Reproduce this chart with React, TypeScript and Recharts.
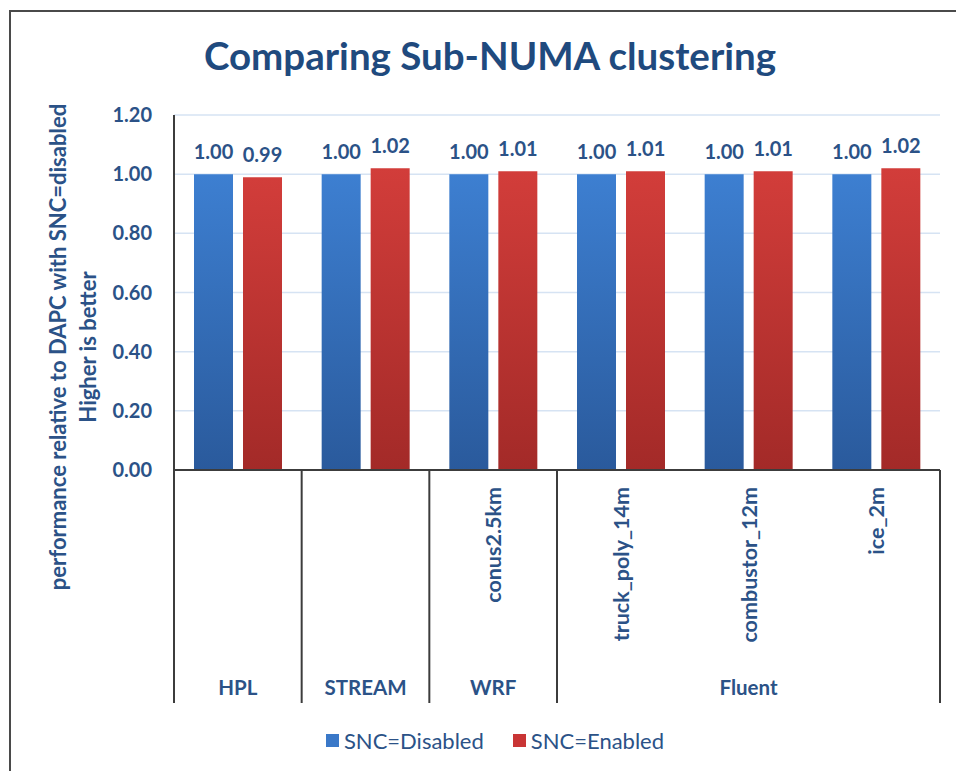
import React from 'react'
import { BarChart, Bar, XAxis, YAxis, CartesianGrid, Legend, LabelList } from 'recharts'

const groups = ['HPL', 'STREAM', 'WRF', 'Fluent', 'Fluent', 'Fluent']
const cases = ['', '', 'conus2.5km', 'truck_poly_14m', 'combustor_12m', 'ice_2m']
const sncDisabled = [1.0, 1.0, 1.0, 1.0, 1.0, 1.0]
const sncEnabled = [0.99, 1.02, 1.01, 1.01, 1.01, 1.02]
const yTicks = [0, 0.2, 0.4, 0.6, 0.8, 1.0, 1.2]
const seriesNames = ['SNC=Disabled', 'SNC=Enabled']

const data = groups.map((g, i) => ({
    key: `${g}|${cases[i]}`,
    disabled: sncDisabled[i],
    enabled: sncEnabled[i],
}))

const FONT = 'Lato, "Open Sans", sans-serif'
const TEXT = '#2b5287'
const LINE = '#3c3c3c'

function CategoryTick(props: any) {
    const { x, y, payload, index } = props
    const half = payload?.offset ?? 0
    const left = x - half
    const right = x + half
    const i = index
    const isStart = i === 0 || groups[i] !== groups[i - 1]
    const isLast = i === groups.length - 1
    let span = 0
    if (isStart) {
        let j = i
        while (j < groups.length && groups[j] === groups[i]) j++
        span = j - i
    }
    const bottom = y + 233
    const top = y + 17
    return (
        <g>
            {cases[i] && (
                <text
                    x={x}
                    y={top}
                    transform={`rotate(-90 ${x} ${top})`}
                    textAnchor="end"
                    dominantBaseline="central"
                    fill={TEXT}
                    fontFamily={FONT}
                    fontWeight={700}
                    fontSize={21.5}
                >
                    {cases[i]}
                </text>
            )}
            {isStart && <line x1={left} x2={left} y1={y} y2={bottom} stroke={LINE} strokeWidth={2} />}
            {isStart && (
                <text
                    x={left + span * half}
                    y={y + 225}
                    textAnchor="middle"
                    fill={TEXT}
                    fontFamily={FONT}
                    fontWeight={700}
                    fontSize={20.5}
                >
                    {groups[i]}
                </text>
            )}
            {isLast && <line x1={right} x2={right} y1={y} y2={bottom} stroke={LINE} strokeWidth={2} />}
        </g>
    )
}

function YLabel() {
    return (
        <g fill={TEXT} fontFamily={FONT} fontWeight={700} fontSize={22}>
            <text x={57} y={347} transform="rotate(-90 57 347)" textAnchor="middle" dominantBaseline="central">
                performance relative to DAPC with SNC=disabled
            </text>
            <text x={87} y={347} transform="rotate(-90 87 347)" textAnchor="middle" dominantBaseline="central">
                Higher is better
            </text>
        </g>
    )
}

function LegendBox() {
    const colors = ['#3a78c8', '#c93535']
    return (
        <div
            style={{
                display: 'flex',
                justifyContent: 'center',
                alignItems: 'center',
                gap: 29,
                height: 26,
                paddingLeft: 50,
                fontFamily: FONT,
                fontSize: 22,
                color: TEXT,
            }}
        >
            {seriesNames.map((n, k) => (
                <div key={n} style={{ display: 'flex', alignItems: 'center', gap: 5 }}>
                    <span style={{ width: 13, height: 13, background: colors[k], display: 'inline-block' }} />
                    <span>{n}</span>
                </div>
            ))}
        </div>
    )
}

export default function App() {
    const labelStyle = { fill: TEXT, fontFamily: FONT, fontWeight: 700, fontSize: 20 }
    return (
        <div style={{ position: 'absolute', left: 0, top: 0, width: 956, height: 771, background: '#fff', overflow: 'hidden' }}>
            <div
                style={{
                    position: 'absolute',
                    left: 9,
                    top: 10,
                    width: 956,
                    height: 771,
                    borderTop: '2px solid #4a4a4a',
                    borderLeft: '2px solid #4a4a4a',
                }}
            />
            <div
                style={{
                    position: 'absolute',
                    left: 0,
                    top: 32,
                    width: 980,
                    textAlign: 'center',
                    fontFamily: FONT,
                    fontWeight: 700,
                    fontSize: 38.5,
                    color: '#1f4a7e',
                }}
            >
                Comparing Sub-NUMA clustering
            </div>
            <div style={{ position: 'absolute', left: 0, top: 0 }}>
                <BarChart
                    width={956}
                    height={771}
                    data={data}
                    margin={{ top: 115, right: 16, bottom: 18, left: 0 }}
                    barGap={10}
                >
                    <defs>
                        <linearGradient id="gradBlue" x1="0" y1="0" x2="0" y2="1">
                            <stop offset="0%" stopColor="#3d7fd1" />
                            <stop offset="100%" stopColor="#2a5a9c" />
                        </linearGradient>
                        <linearGradient id="gradRed" x1="0" y1="0" x2="0" y2="1">
                            <stop offset="0%" stopColor="#d23d3a" />
                            <stop offset="100%" stopColor="#a32a28" />
                        </linearGradient>
                    </defs>
                    <CartesianGrid vertical={false} stroke="#d6e3f3" strokeWidth={1.5} />
                    <XAxis
                        dataKey="key"
                        height={257}
                        interval={0}
                        tickLine={false}
                        tickSize={0}
                        tickMargin={0}
                        axisLine={{ stroke: LINE, strokeWidth: 2 }}
                        tick={<CategoryTick />}
                    />
                    <YAxis
                        width={174}
                        domain={[0, 1.2]}
                        ticks={yTicks}
                        interval={0}
                        tickFormatter={(v: number) => v.toFixed(2)}
                        tickLine={false}
                        tickSize={0}
                        tickMargin={22}
                        axisLine={{ stroke: LINE, strokeWidth: 2 }}
                        tick={{ fill: TEXT, fontFamily: FONT, fontWeight: 700, fontSize: 20 }}
                        label={<YLabel />}
                    />
                    <Legend verticalAlign="bottom" content={<LegendBox />} />
                    <Bar dataKey="disabled" name={seriesNames[0]} fill="url(#gradBlue)" barSize={39} isAnimationActive={false}>
                        <LabelList dataKey="disabled" position="top" offset={15} formatter={(v: any) => Number(v).toFixed(2)} style={labelStyle} />
                    </Bar>
                    <Bar dataKey="enabled" name={seriesNames[1]} fill="url(#gradRed)" barSize={39} isAnimationActive={false}>
                        <LabelList dataKey="enabled" position="top" offset={15} formatter={(v: any) => Number(v).toFixed(2)} style={labelStyle} />
                    </Bar>
                </BarChart>
            </div>
        </div>
    )
}
